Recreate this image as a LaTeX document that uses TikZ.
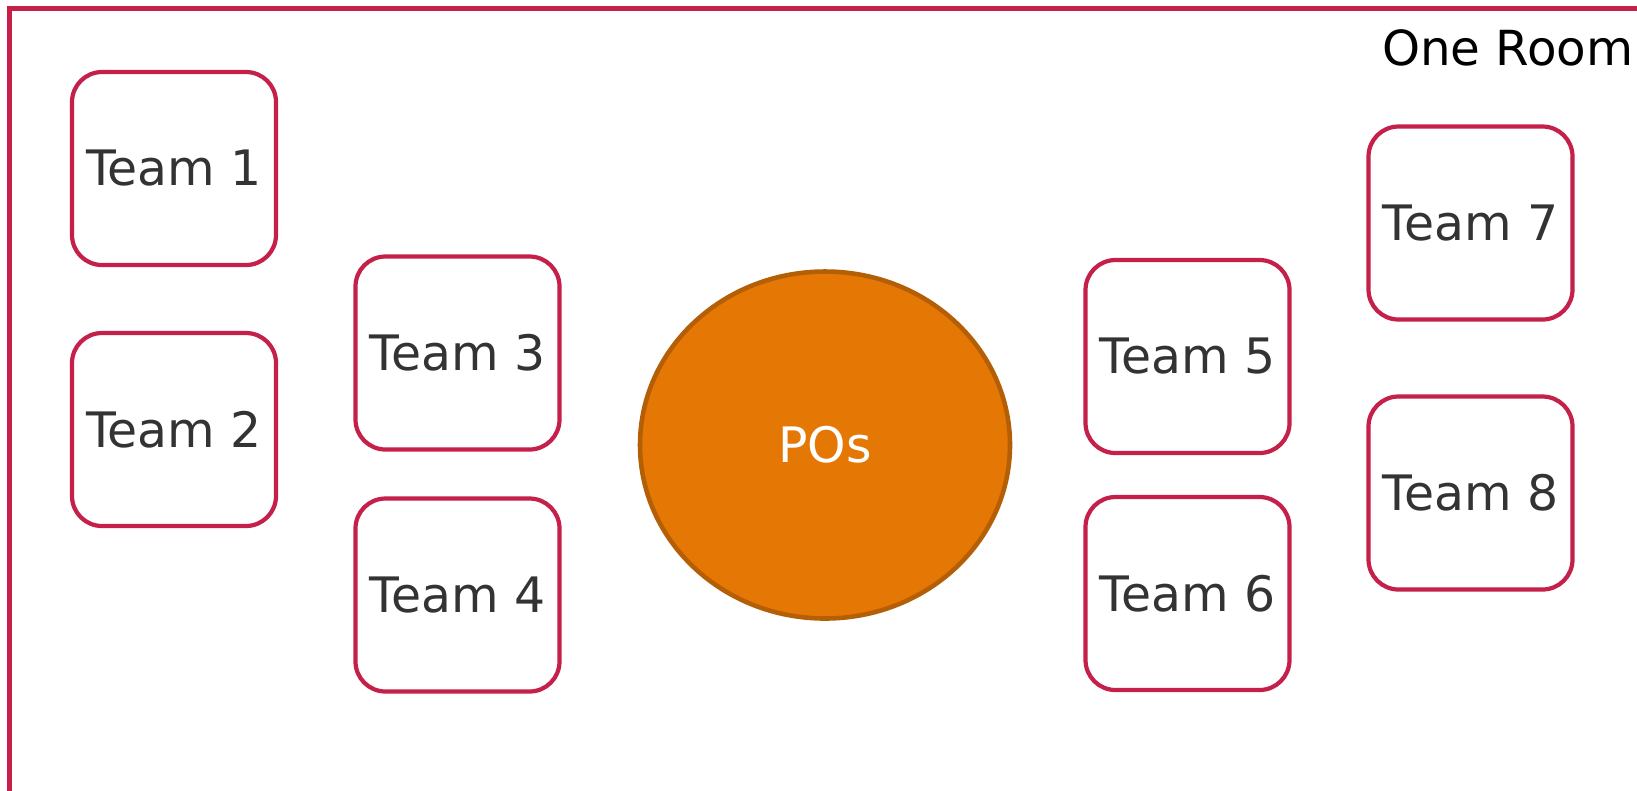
\documentclass[tikz,border=0pt]{standalone}
\usepackage{fontspec}
\setmainfont{DejaVu Sans}
\usepackage{xcolor}
\usepackage{tikz}
\usetikzlibrary{positioning,shapes.geometric}

\definecolor{roomred}{RGB}{196,32,74}
\definecolor{poorange}{RGB}{229,119,5}
\definecolor{poborder}{RGB}{180,95,6}
\definecolor{teamtext}{RGB}{51,51,51}

\begin{document}
\begin{tikzpicture}[
    team/.style={rectangle, rounded corners=0.3cm, draw=roomred, line width=1.2pt, fill=white, minimum width=2.04cm, minimum height=1.93cm, outer sep=0pt, text=teamtext, font=\fontsize{13.9}{16}\selectfont},
    po/.style={ellipse, draw=poborder, line width=1.3pt, fill=poorange, minimum width=3.70cm, minimum height=3.47cm, text=white, font=\fontsize{13.9}{16}\selectfont},
]

\clip (0,0) rectangle (16.37,-7.90);

% Room
\draw[roomred, line width=1.5pt] (0.097,-0.083) rectangle (16.60,-7.955);
\node[anchor=east, font=\fontsize{13.75}{16}\selectfont] (room) at (16.46,-0.48) {One Room};

% Teams
\node[team] (t1) at (1.74,-1.685) {Team 1};
\node[team, below=0.68cm of t1] (t2) {Team 2};
\node[team] (t3) at (4.575,-3.53) {Team 3};
\node[team, below=0.49cm of t3] (t4) {Team 4};
\node[team] (t5) at (11.875,-3.565) {Team 5};
\node[team, below=0.44cm of t5] (t6) {Team 6};
\node[team] (t7) at (14.705,-2.23) {Team 7};
\node[team, below=0.77cm of t7] (t8) {Team 8};

% POs
\node[po] (pos) at (8.25,-4.45) {POs};

\end{tikzpicture}
\end{document}
